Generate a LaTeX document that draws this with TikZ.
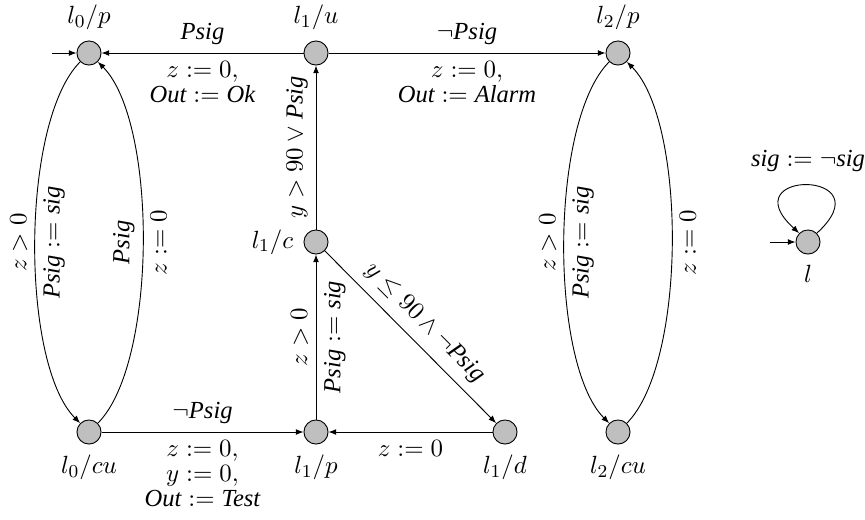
\documentclass[tikz,border=0pt]{standalone}
\usepackage{fontspec}
\setmainfont{Liberation Serif}
\usetikzlibrary{arrows.meta}
\newcommand{\vn}[1]{\textit{#1}}
\begin{document}
\begin{tikzpicture}[x={(0.44pt,0)}, y={(0,-0.44pt)},
  every node/.style={font=\fontsize{10.8}{11}\selectfont},
  state/.style={circle, draw, fill=gray!50, minimum size=10.6pt, inner sep=0pt},
  lbl/.style={label distance=1pt},
  >={Latex[length=3.4pt,width=2.6pt]},
  multi/.style={align=center},
  rl/.style={anchor=south, rotate=90},
  rr/.style={anchor=north, rotate=90}]
\useasboundingbox (0,0) rectangle (865,519);
% states
\node[state, label={[lbl]above:$l_0/p$}] (l0p) at (89,53) {};
\node[state, label={[lbl]above:$l_1/u$}] (l1u) at (316,53) {};
\node[state, label={[lbl]above:$l_2/p$}] (l2p) at (618,53) {};
\node[state, label={[lbl]left:$l_1/c$}] (l1c) at (316,242) {};
\node[state, label={[lbl]below:$l_0/cu$}] (l0cu) at (89,432) {};
\node[state, label={[lbl]below:$l_1/p$}] (l1p) at (316,432) {};
\node[state, label={[lbl]below:$l_1/d$}] (l1d) at (505,432) {};
\node[state, label={[lbl]below:$l_2/cu$}] (l2cu) at (618,432) {};
\node[state, label={[lbl]below:$l$}] (l) at (808,242) {};
% initial arrows
\coordinate (i0) at (52,53);
\coordinate (il) at (770,242);
\draw[->] (i0) -- (l0p);
\draw[->] (il) -- (l);
% top edges
\draw[->] (l1u) -- node[above]{\vn{Psig}}
  node[below, multi]{$z := 0,$\\$\textit{Out} := \textit{Ok}$} (l0p);
\draw[->] (l1u) -- node[above]{$\neg\textit{Psig}$}
  node[below, multi]{$z := 0,$\\$\textit{Out} := \textit{Alarm}$} (l2p);
% middle column
\draw[->] (l1c) -- node[rl]{$y > 90 \vee \textit{Psig}$} (l1u);
\draw[->] (l1p) -- node[rl]{$z > 0$} node[rr]{$\textit{Psig} := \textit{sig}$} (l1c);
\draw[->] (l1c) -- node[sloped, above=0.5pt]{$y \leq 90 \wedge \neg\textit{Psig}$} (l1d);
% bottom edges
\draw[->] (l0cu) -- node[above]{$\neg\textit{Psig}$}
  node[below, multi]{$z := 0,$\\$y := 0,$\\$\textit{Out} := \textit{Test}$} (l1p);
\draw[->] (l1d) -- node[below]{$z := 0$} (l1p);
% left pair
\draw[->] (l0p) to[out=-135, in=135, looseness=0.6]
  node[rl]{$z > 0$} node[rr]{$\textit{Psig} := \textit{sig}$} (l0cu);
\draw[->] (l0cu) to[out=45, in=-45, looseness=0.6]
  node[rl]{\vn{Psig}} node[rr]{$z := 0$} (l0p);
% right pair
\draw[->] (l2p) to[out=-135, in=135, looseness=0.6]
  node[rl]{$z > 0$} node[rr]{$\textit{Psig} := \textit{sig}$} (l2cu);
\draw[->] (l2cu) to[out=45, in=-45, looseness=0.6]
  node[rr]{$z := 0$} (l2p);
% self loop
\draw[->] (l.45) .. controls +(70,-64) and +(-70,-64) .. node[above=2.5pt]{$\textit{sig} := \neg\textit{sig}$} (l.135);
\end{tikzpicture}
\end{document}
